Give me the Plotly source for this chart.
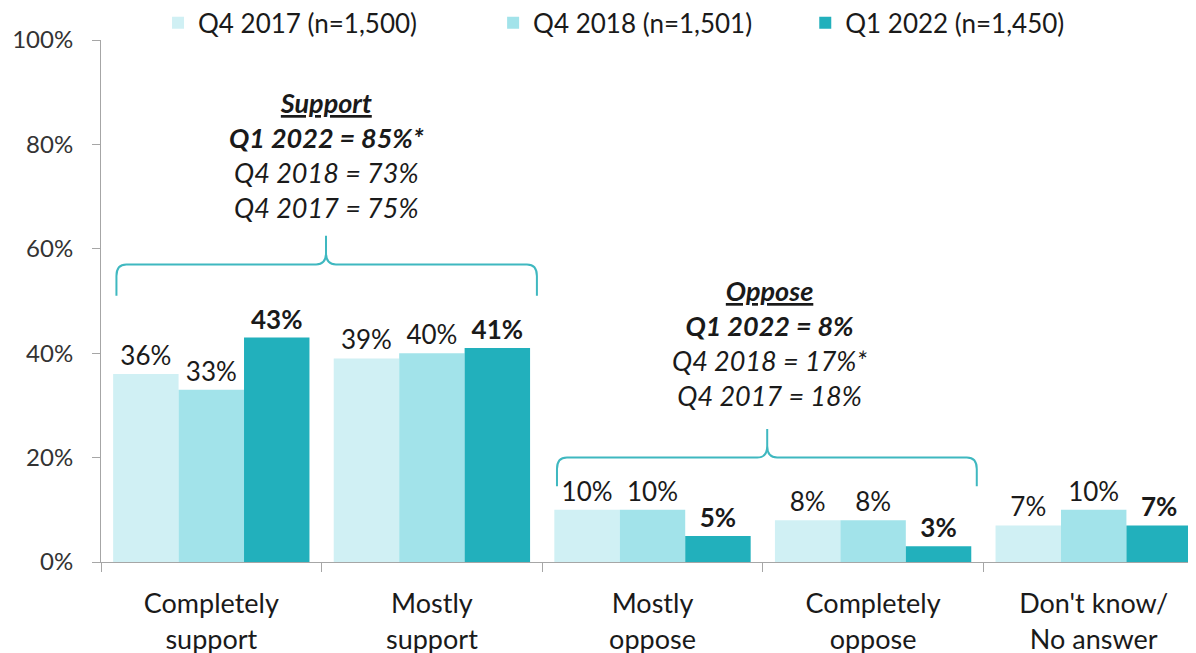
import plotly.graph_objects as go

categories = ["Completely<br>support", "Mostly<br>support", "Mostly<br>oppose", "Completely<br>oppose", "Don't know/<br>No answer"]
series_names = ["Q4 2017 (n=1,500)", "Q4 2018 (n=1,501)", "Q1 2022 (n=1,450)"]
q4_2017 = [36, 39, 10, 8, 7]
q4_2018 = [33, 40, 10, 8, 10]
q1_2022 = [43, 41, 5, 3, 7]
colors = ["#d0f0f4", "#a2e3ea", "#22b0bc"]
ytick_vals = [0, 20, 40, 60, 80, 100]
ytick_text = ["0%", "20%", "40%", "60%", "80%", "100%"]

FONT = "Lato, 'Open Sans', sans-serif"
x = list(range(len(categories)))
legend_ids = ["legend", "legend2", "legend3"]
legend_x = [0.0517, 0.3555, 0.6385]

fig = go.Figure()
for name, vals, col, bold, lg in zip(series_names, [q4_2017, q4_2018, q1_2022], colors,
                                     [False, False, True], legend_ids):
    fig.add_trace(go.Bar(
        x=x, y=vals, name=name, marker=dict(color=col, line=dict(width=0)),
        text=[(f"<b>{v}%</b>" if bold else f"{v}%") for v in vals],
        textposition="outside", textfont=dict(size=26, color="#1a1a1a", family=FONT),
        cliponaxis=False, legend=lg,
    ))

def brace(x0, x1, xm, yt, yb, yp, dx=0.045, dy=2.2):
    return (f"M {x0},{yb} L {x0},{yt-dy} Q {x0},{yt} {x0+dx},{yt} L {xm-dx},{yt} "
            f"Q {xm},{yt} {xm},{yt+dy} L {xm},{yp} M {xm},{yt+dy} Q {xm},{yt} {xm+dx},{yt} "
            f"L {x1-dx},{yt} Q {x1},{yt} {x1},{yt-dy} L {x1},{yb}")

fig.add_shape(type="path", xref="x", yref="y", path=brace(-0.43, 1.476, 0.52, 57, 51, 62.5),
              line=dict(color="#3fb8c0", width=2))
fig.add_shape(type="path", xref="x", yref="y", path=brace(1.567, 3.47, 2.52, 20, 14.5, 25.5),
              line=dict(color="#3fb8c0", width=2))

support_lines = ["<b><i><u>Support</u></i></b>", "<b><i>Q1 2022 = 85%*</i></b>", "<i>Q4 2018 = 73%</i>", "<i>Q4 2017 = 75%</i>"]
oppose_lines = ["<b><i><u>Oppose</u></i></b>", "<b><i>Q1 2022 = 8%</i></b>", "<i>Q4 2018 = 17%*</i>", "<i>Q4 2017 = 18%</i>"]
fig.add_annotation(x=0.52, y=91.5, xref="x", yref="y", text="<br>".join(support_lines),
                   showarrow=False, yanchor="top", align="center",
                   font=dict(size=27, color="#1a1a1a", family=FONT))
fig.add_annotation(x=2.53, y=55.5, xref="x", yref="y", text="<br>".join(oppose_lines),
                   showarrow=False, yanchor="top", align="center",
                   font=dict(size=27, color="#1a1a1a", family=FONT))

legend_common = dict(orientation="h", y=1.033, xanchor="left", yanchor="middle",
                     font=dict(size=26, family=FONT, color="#1a1a1a"),
                     itemsizing="constant", bgcolor="rgba(0,0,0,0)")

fig.update_layout(
    width=1196, height=653,
    margin=dict(l=93, r=0, t=32, b=99, autoexpand=False),
    paper_bgcolor="white", plot_bgcolor="white",
    barmode="group", bargap=0.11, bargroupgap=0,
    font=dict(family=FONT, color="#1a1a1a"),
    showlegend=True,
    legend=dict(x=legend_x[0], **legend_common),
    legend2=dict(x=legend_x[1], **legend_common),
    legend3=dict(x=legend_x[2], **legend_common),
    yaxis=dict(range=[0, 100], tickvals=ytick_vals, ticktext=ytick_text, automargin=False,
               showgrid=False, zeroline=False, showline=True, linecolor="#a6a6a6", linewidth=1,
               ticks="outside", ticklen=8, tickcolor="#a6a6a6", ticklabelstandoff=14,
               tickfont=dict(size=24, color="#333333", family=FONT)),
    xaxis=dict(range=[-0.5, 4.5], tickvals=x, ticktext=categories, automargin=False,
               showgrid=False, zeroline=False, showline=True, linecolor="#a6a6a6", linewidth=1,
               ticks="", ticklabelstandoff=18, tickfont=dict(size=27, color="#1a1a1a", family=FONT),
               minor=dict(tickvals=[-0.5, 0.5, 1.5, 2.5, 3.5, 4.5], ticks="outside", ticklen=9,
                          tickcolor="#a6a6a6", showgrid=False)),
)

fig.write_html("out.html")
